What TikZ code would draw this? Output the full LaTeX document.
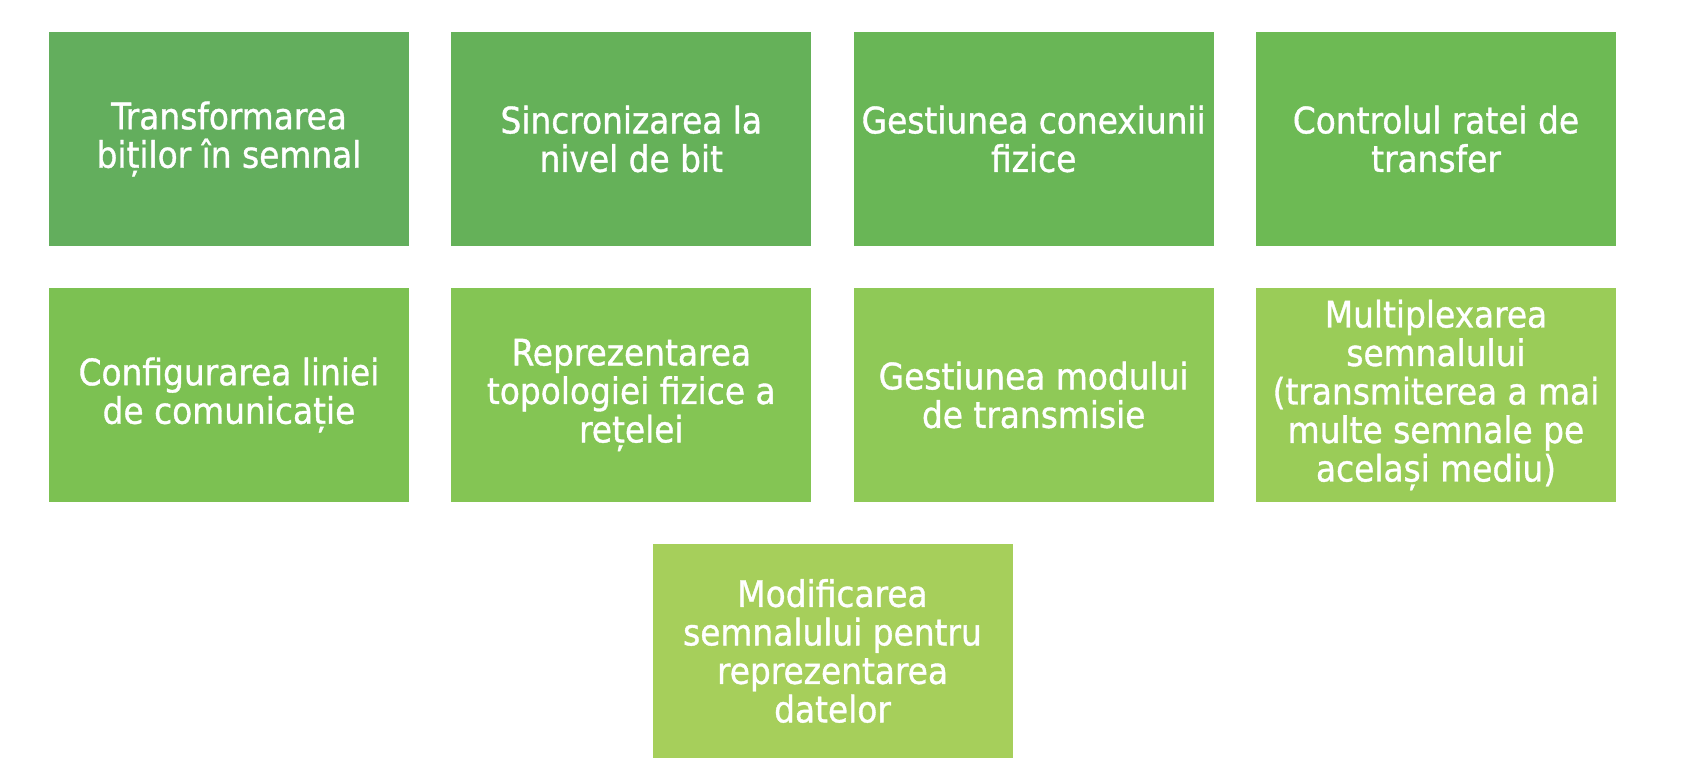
\documentclass[tikz,border=0pt]{standalone}
\usepackage{fontspec}
\setmainfont[FakeBold=1]{DejaVu Sans Condensed}
\definecolor{c1}{HTML}{63AE5D}
\definecolor{c2}{HTML}{65B159}
\definecolor{c3}{HTML}{69B656}
\definecolor{c4}{HTML}{6DBA54}
\definecolor{c5}{HTML}{7CC152}
\definecolor{c6}{HTML}{84C554}
\definecolor{c7}{HTML}{8FC957}
\definecolor{c8}{HTML}{9ACC58}
\definecolor{c9}{HTML}{A6CF5B}
\begin{document}
\begin{tikzpicture}[x=1pt,y=-1pt,
  box/.style={rectangle, minimum width=360pt, minimum height=214pt, inner sep=0pt,
    text=white, align=center, font=\fontsize{36.5}{38.5}\selectfont}]
\fill[white] (0,0) rectangle (1694,776);
\useasboundingbox (0,0) rectangle (1694,776);
\node[box, fill=c1] (b1) at (229,139) {Transformarea\\biților în semnal};
\node[box, fill=c2] (b2) at (631.3,139) {Sincronizarea la\\nivel de bit};
\node[box, fill=c3] (b3) at (1033.7,139) {Gestiunea conexiunii\\fizice};
\node[box, fill=c4] (b4) at (1436,139) {Controlul ratei de\\transfer};
\node[box, fill=c5] (b5) at (229,395) {Configurarea liniei\\de comunicație};
\node[box, fill=c6] (b6) at (631.3,395) {Reprezentarea\\topologiei fizice a\\rețelei};
\node[box, fill=c7] (b7) at (1033.7,395) {Gestiunea modului\\de transmisie};
\node[box, fill=c8] (b8) at (1436,395) {Multiplexarea\\semnalului\\(transmiterea a mai\\multe semnale pe\\același mediu)};
\node[box, fill=c9] (b9) at (832.5,651) {Modificarea\\semnalului pentru\\reprezentarea\\datelor};
\end{tikzpicture}
\end{document}
